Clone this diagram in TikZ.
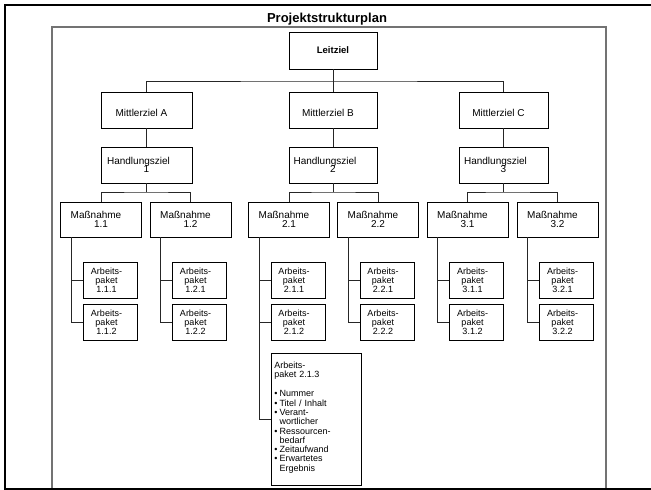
\documentclass[tikz,border=0pt]{standalone}
\usepackage{fontspec}
\setmainfont{Liberation Sans}
\newcommand\tightlines{\lineskiplimit=-20pt\relax}
\newcommand\apk[1]{Arbeits-\rule{8pt}{0pt}\\paket\rule{8pt}{0pt}\\#1\rule{8pt}{0pt}}
\newcommand\msn[1]{Maßnahme\rule{10pt}{0pt}\\#1}
\newcommand\hzl[1]{Handlungsziel\rule{16pt}{0pt}\\#1}
\newcommand\mzl[1]{\rule{0pt}{13pt}Mittlerziel #1\rule{10pt}{0pt}}
\begin{document}
\begin{tikzpicture}[x=1pt,y=-1pt,
  box/.style={draw, line width=0.8pt, fill=white, inner sep=0pt, align=center},
  lead/.style={box, minimum width=88pt, minimum height=37pt, font=\fontsize{9.5}{10}\selectfont\bfseries},
  goal/.style={box, minimum height=36pt, font=\fontsize{10}{8.5}\selectfont\tightlines},
  act/.style={box, minimum width=81pt, minimum height=35pt, font=\fontsize{10}{8.5}\selectfont\tightlines},
  pkg/.style={box, minimum width=54pt, minimum height=36pt, font=\fontsize{9}{9}\selectfont\tightlines},
  conn/.style={line width=0.9pt, black!85},
]
\useasboundingbox (0,0) rectangle (651,490);
% frames
\draw[line width=1.1pt, black!55] (52,27) rectangle (606,488.5);
\draw[line width=2pt, black] (652,4.5) -- (5,4.5) -- (5,488.5) -- (652,488.5);
\node[font=\fontsize{13}{15}\selectfont\bfseries, anchor=base] (title) at (327,22.5) {Projektstrukturplan};

% level 0 / 1
\node[lead] (lz) at (333,50.5) {Leitziel};
\node[goal, minimum width=91pt] (mA) at (146.5,110) {\mzl{A}};
\node[goal, minimum width=88pt] (mB) at (333,110) {\mzl{B}};
\node[goal, minimum width=89pt] (mC) at (503.5,110) {\mzl{C}};

% level 2
\node[goal, minimum width=91pt] (hA) at (146.5,165) {\hzl{1}};
\node[goal, minimum width=88pt] (hB) at (333,165) {\hzl{2}};
\node[goal, minimum width=89pt] (hC) at (503.5,165) {\hzl{3}};

% level 3
\node[act] (m11) at (101,219.5) {\msn{1.1}};
\node[act] (m12) at (190.5,219.5) {\msn{1.2}};
\node[act] (m21) at (289,219.5) {\msn{2.1}};
\node[act] (m22) at (378,219.5) {\msn{2.2}};
\node[act] (m31) at (467.5,219.5) {\msn{3.1}};
\node[act] (m32) at (557.5,219.5) {\msn{3.2}};

% level 4
\node[pkg] (p111) at (110.5,280) {\apk{1.1.1}};
\node[pkg] (p112) at (110.5,322) {\apk{1.1.2}};
\node[pkg] (p121) at (199.5,280) {\apk{1.2.1}};
\node[pkg] (p122) at (199.5,322) {\apk{1.2.2}};
\node[pkg] (p211) at (298,280) {\apk{2.1.1}};
\node[pkg] (p212) at (298,322) {\apk{2.1.2}};
\node[pkg] (p221) at (387,280) {\apk{2.2.1}};
\node[pkg] (p222) at (387,322) {\apk{2.2.2}};
\node[pkg] (p311) at (476.5,280) {\apk{3.1.1}};
\node[pkg] (p312) at (476.5,322) {\apk{3.1.2}};
\node[pkg] (p321) at (566.5,280) {\apk{3.2.1}};
\node[pkg] (p322) at (566.5,322) {\apk{3.2.2}};

\node[box, anchor=north west, align=left, text width=84pt, minimum width=90pt,
      minimum height=132pt, inner xsep=3pt,
      font=\fontsize{9}{9.3}\selectfont\tightlines] (p213) at (271,353)
  {Arbeits-\\paket 2.1.3\\[9.7pt]
   \textbullet\hspace{2pt}Nummer\\
   \textbullet\hspace{2pt}Titel / Inhalt\\
   \textbullet\hspace{2pt}Verant-\\
   \phantom{\textbullet}\hspace{2pt}wortlicher\\
   \textbullet\hspace{2pt}Ressourcen-\\
   \phantom{\textbullet}\hspace{2pt}bedarf\\
   \textbullet\hspace{2pt}Zeitaufwand\\
   \textbullet\hspace{2pt}Erwartetes\\
   \phantom{\textbullet}\hspace{2pt}Ergebnis\rule[-5.5pt]{0pt}{5.5pt}};

% connectors: top
\coordinate (busT) at (333,81);
\draw[conn] (lz.south) -- (mB.north);
\draw[conn] (mA.north) |- (busT) -| (mC.north);
\draw[conn] (mA.south) -- (hA.north);
\draw[conn] (mB.south) -- (hB.north);
\draw[conn] (mC.south) -- (hC.north);

% connectors: Handlungsziel -> Massnahme
\coordinate (jA) at (146.5,192);
\coordinate (jB) at (333,192);
\coordinate (jC) at (503.5,192);
\draw[conn] (hA.south) -- (jA);
\draw[conn] (hB.south) -- (jB);
\draw[conn] (hC.south) -- (jC);
\draw[conn] (m11.north) |- (jA) -| (m12.north);
\draw[conn] (m21.north) |- (jB) -| (m22.north);
\draw[conn] (m31.north) |- (jC) -| (m32.north);

% connectors: Massnahme -> Arbeitspakete
\foreach \m/\a/\b in {11/111/112, 12/121/122, 22/221/222, 31/311/312, 32/321/322}{
  \coordinate (s\m) at ([xshift=11pt]m\m.south west);
  \draw[conn] (s\m) |- (p\b.west);
  \draw[conn] (p\a.west) -- (p\a.west -| s\m);
}
\coordinate (s21) at ([xshift=11pt]m21.south west);
\draw[conn] (s21) |- (p213.west);
\draw[conn] (p211.west) -- (p211.west -| s21);
\draw[conn] (p212.west) -- (p212.west -| s21);
\end{tikzpicture}
\end{document}
